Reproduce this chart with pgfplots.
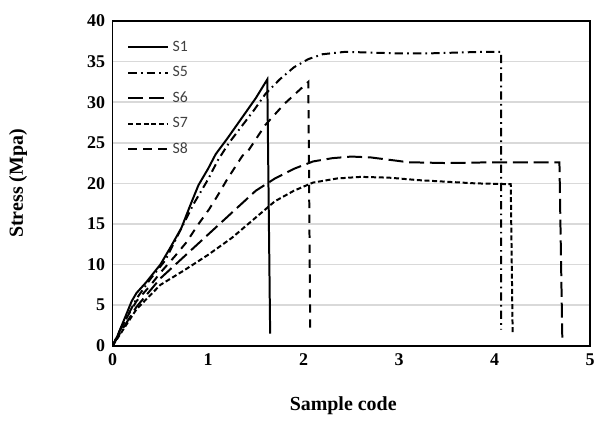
\documentclass[border=0pt]{standalone}
\usepackage{pgfplots}
\pgfplotsset{compat=1.18}
\usepackage{fontspec}
\setmainfont{Liberation Serif}
\newfontfamily\leg{Carlito}
\begin{document}
\begin{tikzpicture}
  \begin{axis}[
    name=ax,
    scale only axis,
    width=287.4pt,
    height=195.6pt,
    xmin=0, xmax=5,
    ymin=0, ymax=40,
    xtick={0,1,2,3,4,5},
    ytick={0,5,10,15,20,25,30,35,40},
    major tick length=0pt,
    axis line style={line width=1pt},
    ymajorgrids,
    major grid style={line width=0.9pt,draw=gray!30},
    /pgf/number format/assume math mode=true,
    tick label style={font=\bfseries\fontsize{10.8}{12}\selectfont},
    xticklabel style={yshift=-1pt},
    yticklabel style={xshift=-1pt},
    xlabel={\bfseries Sample code},
    ylabel={\bfseries Stress (Mpa)},
    label style={font=\bfseries\fontsize{12}{14}\selectfont},
    xlabel style={at={(axis description cs:0.483,-0.184)},anchor=center},
    ylabel style={at={(axis description cs:-0.198,0.5)},anchor=center},
    legend style={draw=none,fill=none,at={(0.02,0.96)},anchor=north west,
      font=\leg\fontsize{9.5}{11}\selectfont,text=black!75,row sep=3.6pt},
    legend cell align={left},
    legend image code/.code={\draw[#1,line width=1.2pt] (0pt,0pt) -- (24pt,0pt);},
  ]
    \addplot[black,line width=1.2pt] coordinates {
      (0,0) (0.05,1.2) (0.12,3.2) (0.2,5.5) (0.25,6.5) (0.35,7.8) (0.5,10)
      (0.6,12) (0.72,14.5) (0.82,17.5) (0.9,19.8) (1.0,21.8) (1.08,23.6)
      (1.2,25.5) (1.35,28) (1.5,30.5) (1.62,32.8) (1.65,1.5)
    };
    \addlegendentry{S1}
    \addplot[black,line width=1.2pt,dash pattern=on 5pt off 2.5pt on 1pt off 2.5pt] coordinates {
      (0,0) (0.1,2.4) (0.25,5.8) (0.4,8.3) (0.55,10.5) (0.7,14) (0.85,17.5)
      (1.0,20.5) (1.1,22.8) (1.22,25) (1.35,27) (1.48,29) (1.6,31) (1.75,32.8)
      (1.9,34.3) (2.05,35.3) (2.2,35.9) (2.44,36.2) (2.7,36.1) (3.0,36.0)
      (3.3,36.0) (3.6,36.1) (3.9,36.2) (4.07,36.2) (4.07,2.0)
    };
    \addlegendentry{S5}
    \addplot[black,line width=1.2pt,dash pattern=on 9pt off 3.5pt] coordinates {
      (0,0) (0.1,2) (0.25,4.8) (0.5,8.3) (0.75,11) (1.0,13.7) (1.25,16.4)
      (1.5,19.1) (1.7,20.6) (1.9,21.8) (2.1,22.7) (2.3,23.1) (2.5,23.3)
      (2.7,23.2) (2.9,22.9) (3.1,22.6) (3.5,22.5) (4.0,22.6) (4.4,22.6)
      (4.68,22.6) (4.71,1)
    };
    \addlegendentry{S6}
    \addplot[black,line width=1.2pt,dash pattern=on 3pt off 1.6pt] coordinates {
      (0,0) (0.1,1.8) (0.25,4.5) (0.5,7.5) (0.75,9.3) (1.0,11.2) (1.25,13.3)
      (1.5,15.8) (1.7,17.8) (1.9,19.1) (2.1,20.1) (2.35,20.6) (2.6,20.8)
      (2.9,20.7) (3.2,20.4) (3.5,20.2) (3.8,20.0) (4.17,19.9) (4.19,1.5)
    };
    \addlegendentry{S7}
    \addplot[black,line width=1.2pt,dash pattern=on 5pt off 4pt] coordinates {
      (0,0) (0.1,2.5) (0.25,5.5) (0.4,7.5) (0.5,9) (0.65,11) (0.77,12.7)
      (0.9,15) (1.01,16.8) (1.1,18.5) (1.2,20.5) (1.36,23.4) (1.42,24.0)
      (1.6,27.2) (1.8,29.8) (2.05,32.5) (2.07,1.5)
    };
    \addlegendentry{S8}
  \end{axis}
  \path ([shift={(-67.8pt,-41.4pt)}]ax.south west) rectangle ([shift={(4.8pt,12.6pt)}]ax.north east);
\end{tikzpicture}
\end{document}
